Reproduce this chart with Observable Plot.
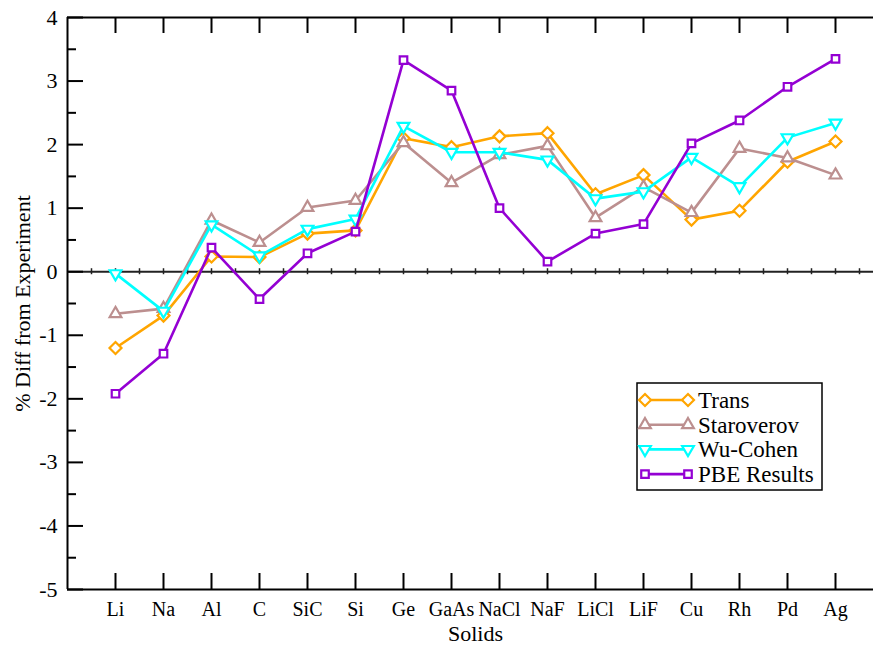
<!DOCTYPE html>
<html>
<head>
<meta charset="utf-8">
<script src="https://cdn.jsdelivr.net/npm/d3@7"></script>
<script src="https://cdn.jsdelivr.net/npm/@observablehq/plot@0.6"></script>
<style>
  html, body { margin: 0; padding: 0; background: #fff; overflow: hidden; }
  #chart { position: relative; width: 873px; height: 645px; }
  #chart svg text { font-family: "Liberation Serif", "DejaVu Serif", serif; }
</style>
</head>
<body>
<div id="chart"></div>
<script>
// Solids along the x axis, in plotting order
const solids = ["Li", "Na", "Al", "C", "SiC", "Si", "Ge", "GaAs", "NaCl", "NaF", "LiCl", "LiF", "Cu", "Rh", "Pd", "Ag"];

// % difference of computed lattice constants from experiment
const trans      = [-1.20, -0.69, 0.24, 0.23, 0.60, 0.65, 2.10, 1.96, 2.13, 2.18, 1.22, 1.52, 0.82, 0.96, 1.73, 2.05];
const staroverov = [-0.66, -0.58, 0.81, 0.46, 1.01, 1.12, 2.03, 1.40, 1.84, 1.98, 0.85, 1.33, 0.93, 1.94, 1.79, 1.52];
const wuCohen    = [-0.03, -0.62, 0.74, 0.25, 0.67, 0.83, 2.29, 1.88, 1.88, 1.76, 1.15, 1.26, 1.80, 1.34, 2.11, 2.34];
const pbe        = [-1.92, -1.29, 0.38, -0.43, 0.29, 0.63, 3.33, 2.85, 1.00, 0.16, 0.60, 0.75, 2.02, 2.38, 2.91, 3.35];

const seriesNames = ["Trans", "Staroverov", "Wu-Cohen", "PBE Results"];
const seriesValues = [trans, staroverov, wuCohen, pbe];

// y axis ticks
const yMajor = [-5, -4, -3, -2, -1, 0, 1, 2, 3, 4];
const yMinor = [-4.5, -3.5, -2.5, -1.5, -0.5, 0.5, 1.5, 2.5, 3.5];

// styling per series
const colors  = ["#FFA500", "#BC8F8F", "#00FFFF", "#9400D3"];
const symbols = ["diamond2", "triangle2", "triangle2", "square2"];
const rotates = [0, 0, 180, 0];
const radii   = [5.4, 5.6, 5.6, 4.8];

const font = "Liberation Serif, DejaVu Serif, serif";

const W = 873, H = 645;
const xRange = [67, 883], yRange = [589, 17];
const pxPerX = (xRange[1] - xRange[0]) / 17;
const pxPerY = (yRange[0] - yRange[1]) / 9;

const rows = seriesNames.map((name, s) =>
  solids.map((solid, i) => ({series: name, solid, pos: i + 1, value: seriesValues[s][i]}))
);

const positions = solids.map((_, i) => i + 1);
const halfSteps = d3.range(0.5, 17.01, 0.5);

const marks = [];

// axis frame: left and top/bottom edges plus the zero line
marks.push(Plot.ruleY([-5, 4], {x1: 0, x2: 17, stroke: "#000", strokeWidth: 2}));
marks.push(Plot.ruleX([0], {y1: -5, y2: 4, stroke: "#000", strokeWidth: 2}));
marks.push(Plot.ruleY([0], {x1: 0, x2: 17, stroke: "#222", strokeWidth: 2}));
marks.push(Plot.ruleX(halfSteps, {y1: -3 / pxPerY, y2: 3 / pxPerY, stroke: "#222", strokeWidth: 1.5}));

// inward ticks
marks.push(Plot.ruleY(yMajor, {x1: 0, x2: 16 / pxPerX, stroke: "#000", strokeWidth: 2}));
marks.push(Plot.ruleY(yMinor, {x1: 0, x2: 9 / pxPerX, stroke: "#000", strokeWidth: 2}));
marks.push(Plot.ruleX(positions, {y1: -5, y2: -5 + 16 / pxPerY, stroke: "#000", strokeWidth: 2}));
marks.push(Plot.ruleX(positions, {y1: 4, y2: 4 - 16 / pxPerY, stroke: "#000", strokeWidth: 2}));

// tick labels
marks.push(Plot.text(yMajor, {x: 0, y: d => d, text: d => String(d), dx: -10, textAnchor: "end", fontSize: 22, fontFamily: font, fill: "#000"}));
marks.push(Plot.text(solids, {x: (d, i) => i + 1, y: -5, text: d => d, dy: 20, fontSize: 20, fontFamily: font, fill: "#000"}));

// axis titles
marks.push(Plot.text(["Solids"], {x: 8.5, y: -5, text: d => d, dy: 44, fontSize: 22, fontFamily: font, fill: "#000"}));
marks.push(Plot.text(["% Diff from Experiment"], {x: 0, y: -0.5, text: d => d, dx: -45, rotate: -90, fontSize: 22, fontFamily: font, fill: "#000"}));

// series: line then markers
rows.forEach((data, s) => {
  marks.push(Plot.line(data, {x: "pos", y: "value", stroke: colors[s], strokeWidth: 2.6}));
  marks.push(Plot.dot(data, {x: "pos", y: "value", symbol: symbols[s], r: radii[s], rotate: rotates[s],
    stroke: colors[s], strokeWidth: 2.2, fill: "#fff"}));
});

const svg = Plot.plot({
  width: W,
  height: H,
  x: {domain: [0, 17], range: xRange, axis: null},
  y: {domain: [-5, 4], range: yRange, axis: null},
  style: {fontFamily: font, fontSize: "20px", background: "#fff", overflow: "visible"},
  marks
});

// legend box
const legend = d3.select(svg).append("g")
  .attr("font-family", font).attr("font-size", 23).attr("text-anchor", "start");
legend.append("rect")
  .attr("x", 637).attr("y", 383).attr("width", 185).attr("height", 107)
  .attr("fill", "#fff").attr("stroke", "#000").attr("stroke-width", 1.5);

const d3Symbols = {diamond2: d3.symbolDiamond2, triangle2: d3.symbolTriangle2, square2: d3.symbolSquare2};
seriesNames.forEach((name, s) => {
  const cy = 400 + s * 24.7;
  const g = legend.append("g");
  g.append("line").attr("x1", 645).attr("x2", 688).attr("y1", cy).attr("y2", cy)
    .attr("stroke", colors[s]).attr("stroke-width", 2.6);
  const path = d3.symbol(d3Symbols[symbols[s]], Math.PI * radii[s] * radii[s])();
  [645, 688].forEach(cx => {
    g.append("path").attr("d", path)
      .attr("transform", `translate(${cx},${cy}) rotate(${rotates[s]})`)
      .attr("fill", "#fff").attr("stroke", colors[s]).attr("stroke-width", 2.2);
  });
  g.append("text").attr("x", 698).attr("y", cy).attr("dy", "0.35em")
    .attr("text-anchor", "start").attr("fill", "#000").text(name);
});

document.getElementById("chart").appendChild(svg);
</script>
</body>
</html>
